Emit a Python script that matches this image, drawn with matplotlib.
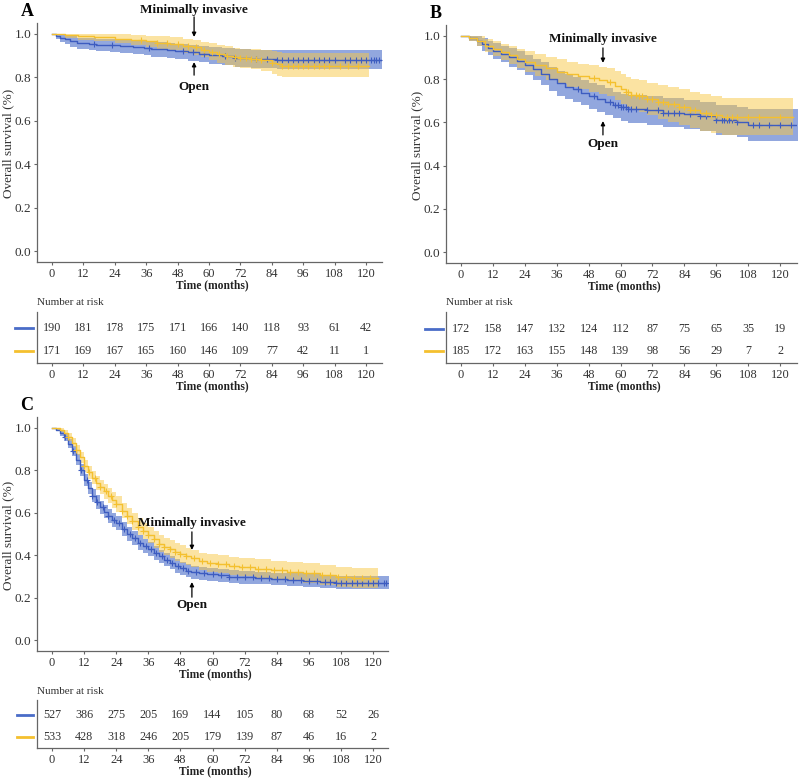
import numpy as np
import matplotlib
matplotlib.use("Agg")
import matplotlib.pyplot as plt
from matplotlib.lines import Line2D

plt.rcParams['font.family'] = ['Liberation Serif', 'DejaVu Serif']

# ---------------- DATA ----------------
xticks = [0, 12, 24, 36, 48, 60, 72, 84, 96, 108, 120]
yticks = [0.0, 0.2, 0.4, 0.6, 0.8, 1.0]

# Panel A - Open (blue)
A_open_t = [0, 1.5, 3, 5, 7, 9.5, 14, 17, 22, 26, 31, 35, 38, 44, 47, 52, 56, 60, 65, 70, 76, 86]
A_open_s = [1.0, 0.99, 0.982, 0.975, 0.965, 0.957, 0.954, 0.951, 0.947, 0.943, 0.940, 0.935, 0.930, 0.925, 0.920, 0.915, 0.908, 0.902, 0.896, 0.890, 0.886, 0.880]
A_open_lo = [1.0, 0.975, 0.962, 0.952, 0.940, 0.930, 0.926, 0.922, 0.917, 0.912, 0.907, 0.901, 0.895, 0.889, 0.883, 0.877, 0.869, 0.862, 0.855, 0.848, 0.843, 0.836]
A_open_hi = [1.0, 1.0, 0.998, 0.994, 0.988, 0.982, 0.980, 0.978, 0.975, 0.972, 0.970, 0.966, 0.963, 0.959, 0.955, 0.951, 0.946, 0.941, 0.936, 0.931, 0.928, 0.925]
A_open_end = 126
A_open_cens = [16, 23, 37, 50, 54, 58, 66, 70, 78, 82, 86, 88, 90, 92, 94, 96, 98, 100, 102, 104, 106,
               108, 112, 114, 116, 118, 120, 122, 123, 124, 125]
# Panel A - Minimally invasive (yellow)
A_mi_t = [0, 5, 10, 16, 24, 30, 36, 40, 45, 50, 54, 57, 60, 63, 66, 69, 72, 76, 80, 84, 86, 88]
A_mi_s = [1.0, 0.994, 0.988, 0.984, 0.978, 0.972, 0.966, 0.960, 0.954, 0.946, 0.938, 0.928, 0.918, 0.908, 0.900, 0.893, 0.887, 0.884, 0.879, 0.868, 0.860, 0.854]
A_mi_lo = [1.0, 0.983, 0.972, 0.965, 0.956, 0.948, 0.940, 0.932, 0.924, 0.914, 0.904, 0.892, 0.880, 0.868, 0.858, 0.849, 0.841, 0.836, 0.829, 0.815, 0.806, 0.800]
A_mi_hi = [1.0, 1.0, 1.0, 1.0, 0.998, 0.995, 0.992, 0.988, 0.984, 0.978, 0.972, 0.964, 0.956, 0.948, 0.942, 0.936, 0.932, 0.931, 0.928, 0.921, 0.915, 0.912]
A_mi_end = 121
A_mi_cens = [34, 40, 44, 48, 52, 55, 58, 61, 64, 67, 70, 72, 74, 76, 78, 80, 84, 88, 90, 92, 94, 96,
             98, 100, 102, 104, 106, 110, 113, 117]
A_risk_open = [190, 181, 178, 175, 171, 166, 140, 118, 93, 61, 42]
A_risk_mi = [171, 169, 167, 165, 160, 146, 109, 77, 42, 11, 1]

# Panel B - Open (blue)
B_open_t = [0, 3, 6, 8, 10, 12, 15, 18, 21, 24, 27, 30, 33, 36, 39, 42, 45, 48, 51, 54, 57, 60, 63, 70, 76, 84, 90, 96, 104, 108]
B_open_s = [1.0, 0.99, 0.975, 0.96, 0.945, 0.93, 0.915, 0.90, 0.885, 0.865, 0.845, 0.825, 0.80, 0.78, 0.765, 0.752, 0.738, 0.722, 0.71, 0.695, 0.68, 0.67, 0.662, 0.655, 0.645, 0.638, 0.628, 0.612, 0.603, 0.588]
B_open_lo = [1.0, 0.975, 0.952, 0.932, 0.913, 0.895, 0.877, 0.858, 0.840, 0.818, 0.795, 0.772, 0.745, 0.724, 0.708, 0.694, 0.679, 0.662, 0.649, 0.633, 0.618, 0.607, 0.598, 0.590, 0.579, 0.571, 0.560, 0.543, 0.533, 0.515]
B_open_hi = [1.0, 1.0, 0.997, 0.988, 0.977, 0.965, 0.953, 0.942, 0.930, 0.912, 0.895, 0.878, 0.855, 0.836, 0.822, 0.810, 0.797, 0.782, 0.771, 0.757, 0.742, 0.733, 0.726, 0.720, 0.711, 0.705, 0.696, 0.681, 0.673, 0.661]
B_open_end = 127
B_open_cens = [44, 50, 56, 58, 59, 60, 61, 62, 63, 64, 66, 70, 74, 76, 78, 80, 82, 86, 90, 92, 96, 98,
               99, 100, 101, 102, 104, 110, 112, 116, 120, 124]
# Panel B - Minimally invasive (yellow)
B_mi_t = [0, 3, 6, 9, 12, 15, 18, 21, 24, 28, 32, 36, 40, 44, 48, 52, 55, 58, 60, 62, 64, 67, 70, 74, 78, 82, 86, 90, 94, 98]
B_mi_s = [1.0, 0.99, 0.975, 0.955, 0.94, 0.925, 0.91, 0.895, 0.88, 0.865, 0.85, 0.835, 0.822, 0.812, 0.803, 0.795, 0.785, 0.77, 0.755, 0.74, 0.728, 0.72, 0.708, 0.695, 0.683, 0.67, 0.658, 0.645, 0.635, 0.627]
B_mi_lo = [1.0, 0.975, 0.953, 0.926, 0.905, 0.886, 0.868, 0.850, 0.832, 0.814, 0.796, 0.779, 0.764, 0.752, 0.741, 0.732, 0.720, 0.703, 0.686, 0.669, 0.656, 0.646, 0.632, 0.617, 0.603, 0.589, 0.575, 0.561, 0.550, 0.541]
B_mi_hi = [1.0, 1.0, 0.997, 0.984, 0.975, 0.964, 0.952, 0.940, 0.928, 0.916, 0.904, 0.891, 0.880, 0.872, 0.865, 0.858, 0.850, 0.837, 0.824, 0.811, 0.800, 0.794, 0.784, 0.773, 0.763, 0.752, 0.741, 0.730, 0.721, 0.714]
B_mi_end = 125
B_mi_cens = [50, 56, 62, 63, 64, 66, 67, 68, 70, 72, 74, 76, 78, 80, 82, 84, 86, 88, 92, 94, 96, 100,
             102, 104, 108, 112, 120]
B_risk_open = [172, 158, 147, 132, 124, 112, 87, 75, 65, 35, 19]
B_risk_mi = [185, 172, 163, 155, 148, 139, 98, 56, 29, 7, 2]

# Panel C - Open (blue)
C_open_t = [0, 1.5, 3, 4.5, 6, 7.5, 9, 10.5, 12, 13.5, 15, 16.5, 18, 19.5, 21, 22.5, 24, 26, 28, 30, 32, 34, 36, 38, 40, 42, 44, 46, 48, 50, 52, 55, 58, 62, 66, 70, 76, 82, 88, 94, 100, 106]
C_open_s = [1.0, 0.99, 0.975, 0.955, 0.925, 0.89, 0.85, 0.80, 0.755, 0.715, 0.68, 0.65, 0.625, 0.605, 0.585, 0.565, 0.55, 0.525, 0.50, 0.48, 0.46, 0.445, 0.43, 0.41, 0.395, 0.38, 0.365, 0.35, 0.338, 0.328, 0.32, 0.315, 0.31, 0.305, 0.30, 0.297, 0.293, 0.289, 0.285, 0.28, 0.276, 0.272]
C_open_lo = [1.0, 0.982, 0.962, 0.938, 0.905, 0.867, 0.825, 0.773, 0.727, 0.686, 0.650, 0.619, 0.594, 0.573, 0.552, 0.532, 0.517, 0.492, 0.467, 0.447, 0.427, 0.412, 0.397, 0.378, 0.363, 0.348, 0.334, 0.319, 0.308, 0.298, 0.290, 0.285, 0.280, 0.275, 0.270, 0.267, 0.263, 0.259, 0.255, 0.250, 0.245, 0.240]
C_open_hi = [1.0, 0.998, 0.988, 0.972, 0.945, 0.913, 0.875, 0.827, 0.783, 0.744, 0.710, 0.681, 0.656, 0.637, 0.618, 0.598, 0.583, 0.558, 0.533, 0.513, 0.493, 0.478, 0.463, 0.442, 0.427, 0.412, 0.396, 0.381, 0.368, 0.358, 0.350, 0.345, 0.340, 0.335, 0.330, 0.327, 0.323, 0.319, 0.315, 0.310, 0.307, 0.304]
C_open_end = 126
C_open_cens = [5, 8, 11, 13, 15, 17, 19, 21, 23, 25, 27, 29, 31, 33, 35, 37, 39, 41, 43, 45, 47, 49, 51,
               54, 57, 60, 63, 66, 69, 72, 75, 78, 81, 84, 87, 90, 93, 96, 99, 102, 104, 106, 108, 110,
               112, 114, 116, 118, 120, 122, 124, 125]
# Panel C - Minimally invasive (yellow)
C_mi_t = [0, 1.5, 3, 4.5, 6, 7.5, 9, 10.5, 12, 13.5, 15, 16.5, 18, 19.5, 21, 22.5, 24, 26, 28, 30, 32, 34, 36, 38, 40, 42, 44, 46, 48, 50, 52, 55, 58, 62, 66, 70, 76, 82, 88, 94, 100, 106, 112]
C_mi_s = [1.0, 0.998, 0.99, 0.975, 0.955, 0.93, 0.895, 0.86, 0.82, 0.79, 0.765, 0.74, 0.72, 0.70, 0.68, 0.66, 0.64, 0.61, 0.585, 0.56, 0.535, 0.515, 0.495, 0.475, 0.455, 0.44, 0.43, 0.415, 0.405, 0.395, 0.385, 0.372, 0.365, 0.358, 0.35, 0.345, 0.337, 0.33, 0.323, 0.316, 0.307, 0.30, 0.294]
C_mi_lo = [1.0, 0.990, 0.978, 0.960, 0.937, 0.909, 0.871, 0.834, 0.792, 0.760, 0.734, 0.708, 0.687, 0.666, 0.645, 0.624, 0.603, 0.573, 0.547, 0.521, 0.496, 0.476, 0.456, 0.435, 0.415, 0.400, 0.389, 0.374, 0.364, 0.354, 0.344, 0.331, 0.323, 0.316, 0.307, 0.302, 0.293, 0.286, 0.278, 0.270, 0.261, 0.253, 0.246]
C_mi_hi = [1.0, 1.0, 1.0, 0.990, 0.973, 0.951, 0.919, 0.886, 0.848, 0.820, 0.796, 0.772, 0.753, 0.734, 0.715, 0.696, 0.677, 0.647, 0.623, 0.599, 0.574, 0.554, 0.534, 0.515, 0.495, 0.480, 0.471, 0.456, 0.446, 0.436, 0.426, 0.413, 0.407, 0.400, 0.393, 0.388, 0.381, 0.374, 0.368, 0.362, 0.353, 0.347, 0.342]
C_mi_end = 122
C_mi_cens = [6, 9, 12, 14, 16, 18, 20, 22, 24, 26, 28, 30, 32, 34, 36, 38, 40, 42, 44, 46, 48, 50, 53,
             56, 59, 62, 65, 68, 71, 74, 77, 80, 83, 86, 89, 92, 95, 98, 101, 104, 107, 110, 113, 116, 119]
C_risk_open = [527, 386, 275, 205, 169, 144, 105, 80, 68, 52, 26]
C_risk_mi = [533, 428, 318, 246, 205, 179, 139, 87, 46, 16, 2]

BLUE_LINE = '#3d5cc0'
BLUE_BAND = '#4a6cc8'
YEL_LINE = '#f4c02f'
YEL_BAND = '#f9c846'
SPINE = '#666666'

# ---------------- LAYOUT ----------------
W, H = 800, 779
fig = plt.figure(figsize=(W / 100, H / 100), dpi=100)


def rect(l, t, r, b):
    return [l / W, 1 - b / H, (r - l) / W, (b - t) / H]


def fx(px):
    return px / W


def fy(py):
    return 1 - py / H


def xlim_from(l, r, x0, x120):
    k = 120.0 / (x120 - x0)
    return (-(x0 - l) * k, 120 + (r - x120) * k)


def style_axes(ax):
    for s in ['top', 'right']:
        ax.spines[s].set_visible(False)
    for s in ['left', 'bottom']:
        ax.spines[s].set_color(SPINE)
        ax.spines[s].set_linewidth(0.9)
    ax.tick_params(colors=SPINE, length=2.5, width=0.8, labelcolor='#333333', pad=1.5)


def km(ax, t, s, lo, hi, end, cens, lc, bc, alpha):
    tt = list(t) + [end]
    ss = list(s) + [s[-1]]
    ll = list(lo) + [lo[-1]]
    hh = list(hi) + [hi[-1]]
    ax.fill_between(tt, ll, hh, step='post', color=bc, alpha=alpha, linewidth=0)
    ax.step(tt, ss, where='post', color=lc, lw=1.0)
    ta = np.array(t)
    cy = [s[np.searchsorted(ta, c, side='right') - 1] for c in cens]
    ax.plot(cens, cy, linestyle='none', marker='+', markersize=5, color=lc, markeredgewidth=0.8)


def panel(letter, main_px, x0, x120, tab_px, rows_px, data, risk_open, risk_mi, ann, leg_x):
    l, t, r, b = main_px
    ax = fig.add_axes(rect(l, t, r, b))
    xl = xlim_from(l, r, x0, x120)
    ax.set_xlim(*xl)
    ax.set_ylim(-0.05, 1.05)
    for (tt, ss, lo, hi, end, cens, lc, bc, al) in data:
        km(ax, tt, ss, lo, hi, end, cens, lc, bc, al)
    style_axes(ax)
    ax.set_xticks(xticks)
    ax.set_xticklabels([str(v) for v in xticks], fontsize=9)
    ax.set_yticks(yticks)
    ax.set_yticklabels(['%.1f' % v for v in yticks], fontsize=9.5)
    # y label
    fig.text(fx(l - 29), fy((t + b) / 2 + 1), 'Overall survival (%)', rotation=90,
             ha='center', va='center', fontsize=9.5, color='#333333')
    fig.text(fx((l + r) / 2 + 3), fy(b + 23), 'Time (months)', ha='center', va='center',
             fontsize=8.3, fontweight='bold', color='#222222')
    # panel letter
    fig.text(fx(l - 10), fy(t - 11), letter, ha='center', va='center', fontsize=13,
             fontweight='bold')
    # annotations
    ax_x, mi_txt, mi_tail, mi_head, op_txt, op_tail, op_head = ann
    ax.text(ax_x, mi_txt, 'Minimally invasive', ha='center', va='center', fontsize=9.5,
            fontweight='bold', clip_on=False, color='#111111')
    ax.annotate('', xy=(ax_x, mi_head), xytext=(ax_x, mi_tail),
                arrowprops=dict(arrowstyle='-|>', color='black', lw=0.9, mutation_scale=6,
                                shrinkA=0, shrinkB=0), annotation_clip=False)
    ax.text(ax_x, op_txt, 'Open', ha='center', va='center', fontsize=9.5,
            fontweight='bold', color='#111111')
    ax.annotate('', xy=(ax_x, op_head), xytext=(ax_x, op_tail),
                arrowprops=dict(arrowstyle='-|>', color='black', lw=0.9, mutation_scale=6,
                                shrinkA=0, shrinkB=0))

    # risk table
    tl, tt_, tr, tb = tab_px
    r1, r2 = rows_px
    axt = fig.add_axes(rect(tl, tt_, tr, tb))
    axt.set_xlim(*xl)
    k = r2 - r1
    axt.set_ylim(1 - (tb - r2) / k, 2 + (r1 - tt_) / k)
    style_axes(axt)
    axt.set_yticks([])
    axt.set_xticks(xticks)
    axt.set_xticklabels([str(v) for v in xticks], fontsize=9)
    for xv, a, bb in zip(xticks, risk_open, risk_mi):
        axt.text(xv, 2, str(a), ha='center', va='center', fontsize=8.7, color='#333333')
        axt.text(xv, 1, str(bb), ha='center', va='center', fontsize=8.7, color='#333333')
    fig.text(fx(tl), fy(tt_ - 9), 'Number at risk', ha='left', va='center', fontsize=8,
             color='#333333')
    fig.text(fx((tl + tr) / 2 + 3), fy(tb + 23), 'Time (months)', ha='center', va='center',
             fontsize=8.3, fontweight='bold', color='#222222')
    fig.add_artist(Line2D([fx(leg_x[0]), fx(leg_x[1])], [fy(r1), fy(r1)], color=BLUE_BAND, lw=2))
    fig.add_artist(Line2D([fx(leg_x[0]), fx(leg_x[1])], [fy(r2), fy(r2)], color=YEL_LINE, lw=2))


def series(t, s, lo, hi, end, cens, is_open):
    if is_open:
        return (t, s, lo, hi, end, cens, BLUE_LINE, BLUE_BAND, 0.6)
    return (t, s, lo, hi, end, cens, YEL_LINE, YEL_BAND, 0.5)


panel('A', (37, 23, 382, 262), 52, 366, (37, 312, 382, 363), (328, 351),
      [series(A_open_t, A_open_s, A_open_lo, A_open_hi, A_open_end, A_open_cens, True),
       series(A_mi_t, A_mi_s, A_mi_lo, A_mi_hi, A_mi_end, A_mi_cens, False)],
      A_risk_open, A_risk_mi,
      (54.3, 1.11, 1.078, 0.986, 0.755, 0.81, 0.87), (15, 33))

panel('B', (446, 25, 797, 263), 461, 780, (446, 312, 797, 363), (329, 351),
      [series(B_open_t, B_open_s, B_open_lo, B_open_hi, B_open_end, B_open_cens, True),
       series(B_mi_t, B_mi_s, B_mi_lo, B_mi_hi, B_mi_end, B_mi_cens, False)],
      B_risk_open, B_risk_mi,
      (53.4, 0.986, 0.944, 0.875, 0.5, 0.542, 0.606), (425, 443))

panel('C', (37, 417, 388, 651), 52, 373, (37, 700, 388, 748), (715, 737),
      [series(C_open_t, C_open_s, C_open_lo, C_open_hi, C_open_end, C_open_cens, True),
       series(C_mi_t, C_mi_s, C_mi_lo, C_mi_hi, C_mi_end, C_mi_cens, False)],
      C_risk_open, C_risk_mi,
      (52.3, 0.552, 0.51, 0.425, 0.165, 0.203, 0.274), (17, 33))

fig.savefig('out.png', dpi=100)
